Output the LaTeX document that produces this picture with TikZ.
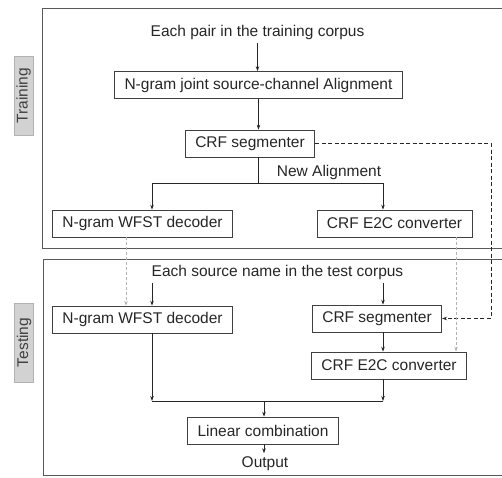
\documentclass[tikz,border=0pt]{standalone}
\usepackage{fontspec}
\setmainfont{Liberation Sans}
\usetikzlibrary{arrows.meta}
\tikzset{
  box/.style={draw=black!75, minimum height=27pt, inner xsep=10pt, inner ysep=0pt},
  lab/.style={draw=gray!60, fill=gray!35, rotate=90, minimum width=79pt, minimum height=19pt,
    inner sep=0pt, text=black!75, font=\fontsize{15.5pt}{17pt}\selectfont},
  panel/.style={draw=black!65, line width=0.8pt},
  faint/.style={gray!60, dash pattern=on 3pt off 2pt}
}
\begin{document}
\begin{tikzpicture}[x=1pt, y=-1pt, >={Stealth[length=5pt,width=3.5pt]},
    font=\fontsize{15.5pt}{18pt}\selectfont, line width=0.7pt, black!85]
  \useasboundingbox (0,0) rectangle (502,477);
  \draw[panel] (502,8) -- (42,8) -- (42,248) -- (502,248);
  \draw[panel] (502,259) -- (43,259) -- (43,475) -- (502,475);
  \draw
    (23.5,95.5) node[lab] (train){Training}
    (24,342.5) node[lab] (test){Testing}
    (257.5,32) node (pair){Each pair in the training corpus}
    (258.5,85) node[box] (align){N-gram joint source-channel Alignment}
    (250,143.5) node[box] (seg1){CRF segmenter}
    (329,172) node (newal){New Alignment}
    (142.5,223.5) node[box] (wfst1){N-gram WFST decoder}
    (394.5,223.5) node[box] (e2c1){CRF E2C converter}
    (277.5,272) node (src){Each source name in the test corpus}
    (142.5,319.5) node[box] (wfst2){N-gram WFST decoder}
    (377,318.5) node[box] (seg2){CRF segmenter}
    (389,365.5) node[box] (e2c2){CRF E2C converter}
    (263,430.5) node[box] (lin){Linear combination}
    (265,464) node (out){Output};
  \coordinate (fl) at (152,183);
  \coordinate (fr) at (383,183);
  \coordinate (jl) at (152,401);
  \coordinate (jr) at (383,401);
  \coordinate (jm) at (264,401);
  \coordinate (bend) at (491,143);
  \begin{scope}[->]
    \draw (pair.south) -- (pair.south |- align.north);
    \draw (align.south) -- (align.south |- seg1.north);
    \draw[-] (align.south |- seg1.south) -- (align.south |- fl);
    \draw[-] (fl) -- (fr);
    \draw (fl) -- (fl |- wfst1.north);
    \draw (fr) -- (fr |- e2c1.north);
    \draw[dash pattern=on 4pt off 2.5pt] (seg1.east) -- (seg1.east -| bend) |- (seg2.east);
    \draw[faint] ([xshift=-16.5pt]wfst1.south) -- ([xshift=-16.5pt]wfst1.south |- wfst2.north);
    \draw[faint] ([xshift=61.5pt]e2c1.south) -- ([xshift=61.5pt]e2c1.south |- e2c2.north);
    \draw (src.south -| fl) -- (fl |- wfst2.north);
    \draw (src.south -| fr) -- (fr |- seg2.north);
    \draw (fr |- seg2.south) -- (fr |- e2c2.north);
    \draw (fl |- wfst2.south) -- (jl);
    \draw (fr |- e2c2.south) -- (jr);
    \draw[-] (jl) -- (jr);
    \draw (jm) -- (jm |- lin.north);
    \draw (jm |- lin.south) -- (jm |- out.north);
  \end{scope}
\end{tikzpicture}
\end{document}
